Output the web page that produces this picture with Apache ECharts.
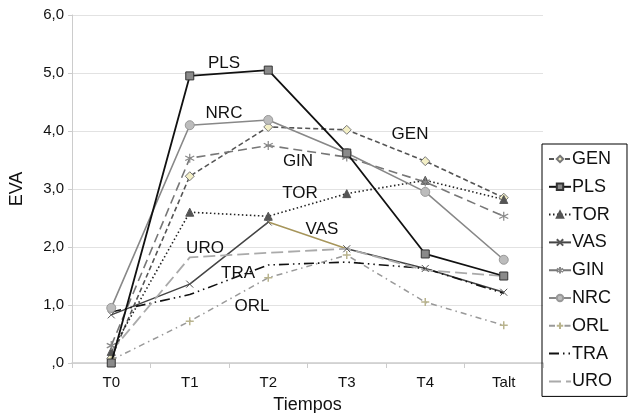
<!DOCTYPE html>
<html>
<head>
<meta charset="utf-8">
<script src="https://cdn.jsdelivr.net/npm/echarts@6/dist/echarts.min.js"></script>
<style>
  html, body { margin: 0; padding: 0; background: #fff; }
  #chart { width: 630px; height: 413px; }
</style>
</head>
<body>
<div id="chart"></div>
<script>
  // categorias del eje x
  const tiempos = ["T0", "T1", "T2", "T3", "T4", "Talt"];
  const yTicks = [0, 1, 2, 3, 4, 5, 6];

  // valores EVA por grupo
  const gen = [0.08, 3.22, 4.07, 4.02, 3.48, 2.85];
  const pls = [0.0, 4.95, 5.05, 3.62, 1.88, 1.5];
  const tor = [0.2, 2.6, 2.53, 2.92, 3.15, 2.82];
  const vas = [0.83, 1.36, 2.43, 1.97, 1.63, 1.22];
  const gin = [0.3, 3.53, 3.75, 3.55, 3.12, 2.53];
  const nrc = [0.95, 4.1, 4.19, 3.62, 2.95, 1.78];
  const orl = [0.05, 0.72, 1.47, 1.86, 1.05, 0.65];
  const tra = [0.88, 1.18, 1.69, 1.74, 1.63, 1.2];
  const uro = [0.2, 1.82, 1.9, 1.97, 1.6, 1.5];

  const chart = echarts.init(document.getElementById("chart"));
  const font = "'Liberation Sans', Arial, sans-serif";

  const xPath = "path://M-1,-1L1,1M-1,1L1,-1";
  const starPath = "path://M0,-1L0,1M-0.87,-0.5L0.87,0.5M-0.87,0.5L0.87,-0.5";
  const plusPath = "path://M0,-1L0,1M-1,0L1,0";

  function serie(name, data, opts) {
    return Object.assign({
      name: name,
      type: "line",
      data: data,
      showSymbol: true,
      animation: false,
      z: 3
    }, opts);
  }

  // etiquetas dentro del grafico
  const notas = [
    ["PLS", 224, 63], ["NRC", 224, 113], ["GEN", 410, 134],
    ["GIN", 298, 161], ["TOR", 300, 193], ["VAS", 322, 229],
    ["URO", 205, 248], ["TRA", 238, 273], ["ORL", 252, 306]
  ];

  const option = {
    backgroundColor: "#fff",
    animation: false,
    grid: { left: 72, right: 87, top: 15, bottom: 50, outerBoundsMode: "none", containLabel: false },
    legend: {
      orient: "vertical",
      left: 542,
      top: 144,
      padding: [5, 15, 5, 6],
      borderColor: "#000",
      borderWidth: 1,
      itemWidth: 22,
      itemHeight: 8,
      itemGap: 7.8,
      textStyle: { fontFamily: font, fontSize: 18, color: "#111", padding: [0, 0, 0, -4], lineHeight: 20 },
      data: ["GEN", "PLS", "TOR", "VAS", "GIN", "NRC", "ORL",
        { name: "TRA", itemStyle: { opacity: 0 } },
        { name: "URO", itemStyle: { opacity: 0 } }]
    },
    visualMap: {
      type: "piecewise",
      show: false,
      seriesIndex: 3,
      dimension: 0,
      pieces: [
        { lt: 2, color: "#444" },
        { gte: 2, lte: 3, color: "#a6955a" },
        { gt: 3, color: "#444" }
      ]
    },
    xAxis: {
      type: "category",
      data: tiempos,
      boundaryGap: true,
      name: "Tiempos",
      nameLocation: "middle",
      nameGap: 33,
      nameTextStyle: { fontFamily: font, fontSize: 18, color: "#111" },
      axisLine: { lineStyle: { color: "#ccc", width: 1.5 } },
      axisTick: { show: true, length: 5, lineStyle: { color: "#ccc" } },
      axisLabel: { fontFamily: font, fontSize: 15, color: "#111", margin: 12 }
    },
    yAxis: {
      type: "value",
      min: 0,
      max: 6,
      interval: 1,
      name: "EVA",
      nameLocation: "middle",
      nameGap: 46,
      nameTextStyle: { fontFamily: font, fontSize: 18, color: "#111" },
      axisLine: { show: true, lineStyle: { color: "#ccc" } },
      axisTick: { show: true, length: 4, lineStyle: { color: "#ccc" } },
      splitLine: { lineStyle: { color: "#e2e2e2" } },
      axisLabel: {
        fontFamily: font, fontSize: 15, color: "#111", margin: 8,
        formatter: function (v) {
          if (yTicks.indexOf(v) < 0) return "";
          return v === 0 ? ",0" : v.toFixed(1).replace(".", ",");
        }
      }
    },
    graphic: notas.map(function (n) {
      return {
        type: "text",
        x: n[1],
        y: n[2],
        z: 10,
        style: {
          text: n[0],
          fill: "#111",
          font: "17px " + font,
          textAlign: "center",
          textVerticalAlign: "middle"
        }
      };
    }),
    series: [
      serie("GEN", gen, {
        symbol: "diamond", symbolSize: 9,
        lineStyle: { color: "#555", width: 1.6, type: [5, 3] },
        itemStyle: { color: "#f3efc6", borderColor: "#777", borderWidth: 1 }
      }),
      serie("PLS", pls, {
        symbol: "rect", symbolSize: 8,
        lineStyle: { color: "#111", width: 1.8, type: "solid" },
        itemStyle: { color: "#8a8a8a", borderColor: "#333", borderWidth: 1 },
        z: 4
      }),
      serie("TOR", tor, {
        symbol: "triangle", symbolSize: 8,
        lineStyle: { color: "#222", width: 1.6, type: [1.5, 2.5] },
        itemStyle: { color: "#555", borderColor: "#555", borderWidth: 1 }
      }),
      serie("VAS", vas, {
        symbol: xPath, symbolSize: 7,
        lineStyle: { width: 1.5, type: "solid" },
        itemStyle: { color: "#444", borderColor: "#555", borderWidth: 1 }
      }),
      serie("GIN", gin, {
        symbol: starPath, symbolSize: 9,
        lineStyle: { color: "#777", width: 1.6, type: [9, 5] },
        itemStyle: { color: "#888", borderColor: "#888", borderWidth: 1.2 }
      }),
      serie("NRC", nrc, {
        symbol: "circle", symbolSize: 9,
        lineStyle: { color: "#888", width: 1.6, type: "solid" },
        itemStyle: { color: "#bcbcbc", borderColor: "#999", borderWidth: 1 }
      }),
      serie("ORL", orl, {
        symbol: plusPath, symbolSize: 8,
        lineStyle: { color: "#999", width: 1.5, type: [6, 4, 1.5, 4] },
        itemStyle: { color: "#c9c48e", borderColor: "#b9b48e", borderWidth: 1.5 }
      }),
      serie("TRA", tra, {
        symbol: "none",
        lineStyle: { color: "#111", width: 1.6, type: [10, 4, 1.5, 4, 1.5, 4] },
        itemStyle: { color: "#111" }
      }),
      serie("URO", uro, {
        symbol: "none",
        lineStyle: { color: "#aaa", width: 1.8, type: [12, 5] },
        itemStyle: { color: "#aaa" }
      })
    ]
  };

  chart.setOption(option);
  window.addEventListener("resize", () => {
    chart.resize();
  });
</script>
</body>
</html>
